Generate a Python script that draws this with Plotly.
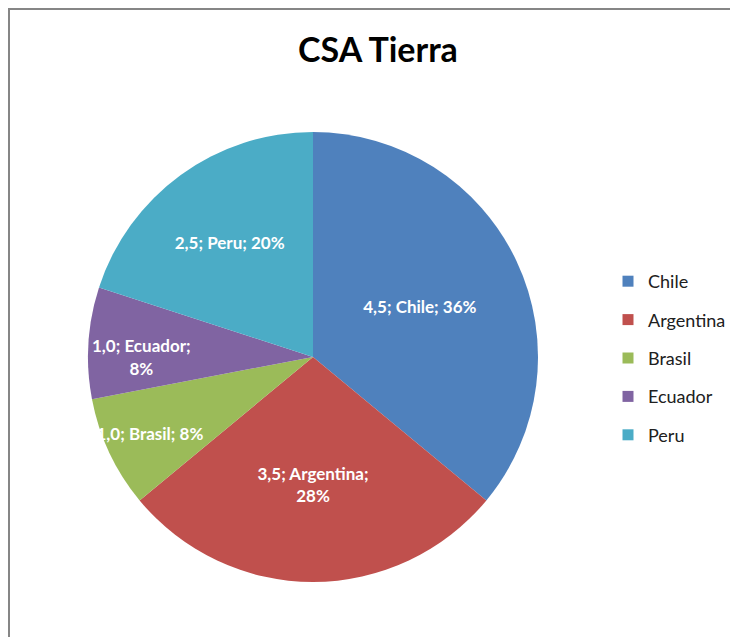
import plotly.graph_objects as go

categories = ["Chile", "Argentina", "Brasil", "Ecuador", "Peru"]
values = [4.5, 3.5, 1.0, 1.0, 2.5]
colors = ["#4F81BD", "#C0504D", "#9BBB59", "#8064A2", "#4BACC6"]
wrap_after_label = [False, True, False, True, False]
title_text = "CSA Tierra"

total = sum(values)
texts = []
for cat, v, wrap in zip(categories, values, wrap_after_label):
    vs = f"{v:.1f}".replace(".", ",")
    pct = f"{round(100 * v / total)}%"
    sep = "<br>" if wrap else " "
    texts.append(f"{vs}; {cat};{sep}{pct}")

OFF = 8  # page body margin
W, H = 738 - OFF, 637 - OFF
cx, cy, r = 313 - OFF, 357 - OFF, 225

fig = go.Figure()
fig.add_trace(go.Pie(
    labels=categories, values=values, text=texts,
    textinfo="text", textposition="inside", insidetextorientation="horizontal",
    marker=dict(colors=colors, line=dict(width=0)),
    sort=False, direction="clockwise", rotation=0,
    showlegend=False, hoverinfo="label+value+percent",
    insidetextfont=dict(family="Lato", size=17, color="white", weight="bold"),
    domain=dict(x=[(cx - r) / W, (cx + r) / W], y=[1 - (cy + r) / H, 1 - (cy - r) / H]),
))
for i, (cat, col) in enumerate(zip(categories, colors)):
    fig.add_trace(go.Scatter(
        x=[None], y=[None], mode="markers", name=cat,
        marker=dict(symbol="square", size=11, color=col),
        legendgroup=f"g{i}", showlegend=True,
    ))

fig.update_layout(
    width=W, height=H,
    margin=dict(l=0, r=0, t=0, b=0),
    paper_bgcolor="white", plot_bgcolor="white",
    separators=",.",
    uniformtext=dict(minsize=17, mode="show"),
    title=dict(text=title_text, x=(378 - OFF) / W, xanchor="center", y=1 - (50 - OFF) / H, yanchor="middle",
               font=dict(family="Lato", size=34, color="black", weight="bold")),
    xaxis=dict(visible=False), yaxis=dict(visible=False),
    legend=dict(x=(628 - 20 - OFF) / W, xanchor="left", y=1 - (282 - 13 - OFF - 6) / H, yanchor="top",
                font=dict(family="Lato", size=18, color="#202020"),
                tracegroupgap=12, bgcolor="rgba(0,0,0,0)"),
    shapes=[
        dict(type="line", xref="paper", yref="paper", x0=1 / W, x1=1 / W, y0=0, y1=1,
             line=dict(color="#868686", width=2), layer="above"),
        dict(type="line", xref="paper", yref="paper", x0=0, x1=1, y0=1 - 1 / H, y1=1 - 1 / H,
             line=dict(color="#868686", width=2), layer="above"),
    ],
    showlegend=True,
)

fig.write_html("out.html")
